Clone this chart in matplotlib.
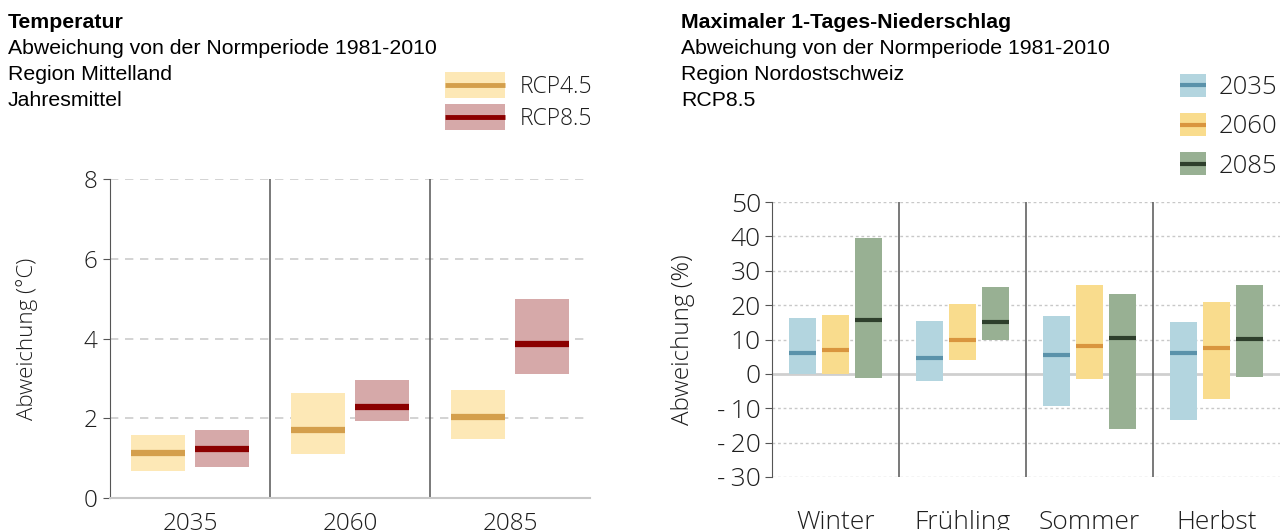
import matplotlib.pyplot as plt
import numpy as np
from matplotlib.patches import Rectangle
from matplotlib.lines import Line2D

# --- data: temperature (left) ---
periods = ["2035", "2060", "2085"]
rcp45_low = [0.68, 1.10, 1.47]
rcp45_med = [1.13, 1.71, 2.02]
rcp45_high = [1.57, 2.64, 2.71]
rcp85_low = [0.77, 1.93, 3.11]
rcp85_med = [1.23, 2.29, 3.87]
rcp85_high = [1.70, 2.97, 4.99]

# --- data: max 1-day precipitation (right) ---
seasons = ["Winter", "Frühling", "Sommer", "Herbst"]
p2035_low = [0.0, -2.1, -9.2, -13.4]
p2035_med = [6.0, 4.5, 5.4, 6.2]
p2035_high = [16.4, 15.3, 16.9, 15.0]
p2060_low = [0.0, 4.1, -1.5, -7.4]
p2060_med = [7.0, 10.0, 8.0, 7.4]
p2060_high = [17.1, 20.4, 26.0, 20.8]
p2085_low = [-1.1, 9.9, -15.9, -1.0]
p2085_med = [15.7, 15.1, 10.5, 10.2]
p2085_high = [39.4, 25.3, 23.2, 26.0]

TICK_FONT = "Open Sans"
TICK_WEIGHT = "light"
TITLE_FONT = "Liberation Sans"
DARK = "#555555"
TXT = "#1e1e1e"


class Band:
    """Legend proxy: shaded box with a median line across it."""
    def __init__(self, fill, line, lw):
        self.fill, self.line, self.lw = fill, line, lw


class BandHandler:
    def legend_artist(self, legend, band, fontsize, handlebox):
        x0, y0 = -handlebox.xdescent, -handlebox.ydescent
        w, h = handlebox.width, handlebox.height
        tr = handlebox.get_transform()
        rect = Rectangle((x0, y0), w, h, facecolor=band.fill, edgecolor="none", transform=tr)
        ln = Line2D([x0, x0 + w], [y0 + h / 2] * 2, color=band.line, lw=band.lw,
                    solid_capstyle="butt", transform=tr)
        handlebox.add_artist(rect)
        handlebox.add_artist(ln)
        return rect


def range_bars(ax, x, low, med, high, width, fill, line, lw):
    low, med, high = map(np.asarray, (low, med, high))
    ax.bar(x, high - low, bottom=low, width=width, color=fill, linewidth=0, zorder=2)
    ax.hlines(med, x - width / 2, x + width / 2, color=line, lw=lw, zorder=3)


def style_ticks(ax):
    for lab in ax.get_xticklabels() + ax.get_yticklabels():
        lab.set_family(TICK_FONT)
        lab.set_weight(TICK_WEIGHT)


fig = plt.figure(figsize=(12.8, 5.3), dpi=100)
W, H = 1280, 530

# ---------------- left panel ----------------
ax1 = fig.add_axes([110 / W, 1 - 498 / H, 480 / W, 319 / H])
x1 = np.arange(len(periods))
range_bars(ax1, x1 - 0.2, rcp45_low, rcp45_med, rcp45_high, 0.335, "#fde8b6", "#d49f4c", 4.5)
range_bars(ax1, x1 + 0.2, rcp85_low, rcp85_med, rcp85_high, 0.335, "#d6a9a9", "#8b0000", 4.5)
ax1.set_xlim(-0.5, len(periods) - 0.5)
ax1.set_ylim(0, 8)
ax1.set_yticks([0, 2, 4, 6, 8])
for y in [2, 4, 6, 8]:
    ax1.axhline(y, color="#cccccc", lw=1.2, ls=(0, (5, 4)), zorder=1)
for s in x1[:-1] + 0.5:
    ax1.axvline(s, color=DARK, lw=1.1, zorder=1)
ax1.set_xticks(x1)
ax1.set_xticklabels(periods)
for side in ["top", "right"]:
    ax1.spines[side].set_visible(False)
ax1.spines["left"].set_color(DARK)
ax1.spines["bottom"].set_color("#c8c8c8")
ax1.spines["bottom"].set_linewidth(1.5)
ax1.tick_params(axis="y", length=5, color=DARK, pad=4, labelsize=17.5, labelcolor=TXT)
ax1.tick_params(axis="x", length=0, pad=10, labelsize=17.5, labelcolor=TXT)
style_ticks(ax1)
ax1.set_ylabel("Abweichung (°C)", family=TICK_FONT, weight=TICK_WEIGHT, fontsize=16, color=TXT)
ax1.yaxis.set_label_coords(-0.15, 0.5)

fig.legend([Band("#fde8b6", "#d49f4c", 3.5), Band("#d6a9a9", "#8b0000", 3.5)],
           ["RCP4.5", "RCP8.5"], handler_map={Band: BandHandler()},
           loc="upper left", bbox_to_anchor=(445 / W, 1 - 72 / H), frameon=False,
           borderpad=0, borderaxespad=0, handlelength=2.6, handleheight=1.35,
           handletextpad=0.65, labelspacing=0.25, labelcolor=TXT,
           prop={"family": TICK_FONT, "weight": TICK_WEIGHT, "size": 16.5})

# ---------------- right panel ----------------
ax2 = fig.add_axes([772 / W, 1 - 477 / H, 508 / W, 275 / H])
x2 = np.arange(len(seasons))
range_bars(ax2, x2 - 0.26, p2035_low, p2035_med, p2035_high, 0.21, "#b3d5df", "#5a92aa", 3)
range_bars(ax2, x2, p2060_low, p2060_med, p2060_high, 0.21, "#f9dc8d", "#d9953e", 3)
range_bars(ax2, x2 + 0.26, p2085_low, p2085_med, p2085_high, 0.21, "#98b093", "#2e3f2c", 3)
ax2.set_xlim(-0.5, len(seasons) - 0.5)
ax2.set_ylim(-30, 50)
yt = list(range(-30, 51, 10))
ax2.set_yticks(yt)
ax2.set_yticklabels([f"-\u2009{abs(v)}" if v < 0 else str(v) for v in yt])
for y in yt:
    if y == 0:
        ax2.axhline(y, color="#cfcfcf", lw=2, zorder=1)
    else:
        ax2.axhline(y, color="#c8c8c8", lw=1, ls=(0, (2, 2)), zorder=1)
for s in x2[:-1] + 0.5:
    ax2.axvline(s, color=DARK, lw=1.1, zorder=1)
ax2.set_xticks(x2)
ax2.set_xticklabels(seasons)
for side in ["top", "right", "bottom"]:
    ax2.spines[side].set_visible(False)
ax2.spines["left"].set_color(DARK)
ax2.tick_params(axis="y", length=5, color=DARK, pad=3, labelsize=19, labelcolor=TXT)
ax2.tick_params(axis="x", length=0, pad=24, labelsize=19, labelcolor=TXT)
style_ticks(ax2)
ax2.set_ylabel("Abweichung (%)", family=TICK_FONT, weight=TICK_WEIGHT, fontsize=17.5, color=TXT)
ax2.yaxis.set_label_coords(-0.152, 0.5)

fig.legend([Band("#b3d5df", "#5a92aa", 3), Band("#f9dc8d", "#d9953e", 3),
            Band("#98b093", "#2e3f2c", 3)],
           ["2035", "2060", "2085"], handler_map={Band: BandHandler()},
           loc="upper left", bbox_to_anchor=(1180 / W, 1 - 74 / H), frameon=False,
           borderpad=0, borderaxespad=0, handlelength=1.0, handleheight=1.0,
           handletextpad=0.5, labelspacing=0.5, labelcolor=TXT,
           prop={"family": TICK_FONT, "weight": TICK_WEIGHT, "size": 18.5})

# ---------------- titles ----------------
left_lines = ["Abweichung von der Normperiode 1981-2010", "Region Mittelland", "Jahresmittel"]
right_lines = ["Abweichung von der Normperiode 1981-2010", "Region Nordostschweiz", "RCP8.5"]
for x0, title, lines in [(8, "Temperatur", left_lines), (681, "Maximaler 1-Tages-Niederschlag", right_lines)]:
    fig.text(x0 / W, 1 - 28 / H, title, family=TITLE_FONT, fontsize=15.3,
             fontweight="bold", va="baseline")
    for i, line in enumerate(lines):
        fig.text(x0 / W, 1 - (54 + 26 * i) / H, line, family=TITLE_FONT,
                 fontsize=15.3, va="baseline")

fig.savefig("out.png", dpi=100)
